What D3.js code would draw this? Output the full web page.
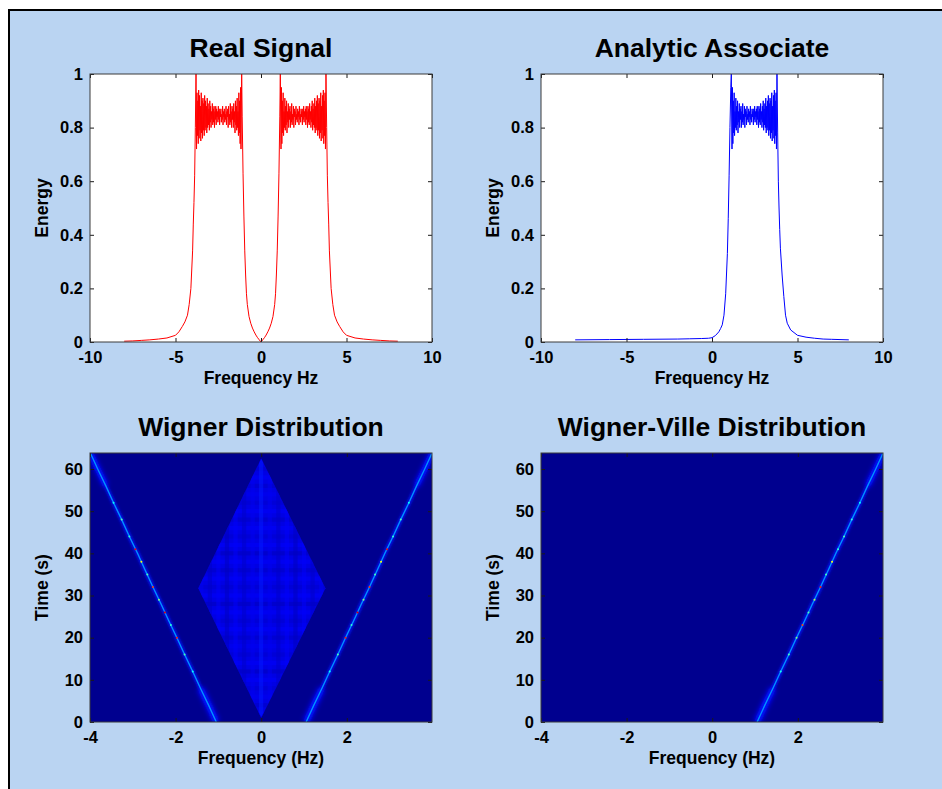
<!DOCTYPE html>
<html>
<head>
<meta charset="utf-8">
<script src="https://cdn.jsdelivr.net/npm/d3@7"></script>
<style>
  html, body { margin: 0; padding: 0; background: #ffffff; }
  svg { display: block; font-family: "Liberation Sans", Arial, Helvetica, sans-serif; }
</style>
</head>
<body>
<svg id="fig" width="942" height="789"></svg>
<script>
// ---------- tick labels ----------
const spectrumTicksX = [-10, -5, 0, 5, 10];
const spectrumTicksY = [0, 0.2, 0.4, 0.6, 0.8, 1];
const wignerTicksX = [-4, -2, 0, 2];
const wignerTicksY = [0, 10, 20, 30, 40, 50, 60];

// ---------- spectrum of the real chirp (positive half; the negative half is its mirror) ----------
const realRiseFreq   = [0, 0.1, 0.2, 0.3, 0.4, 0.5, 0.6, 0.7, 0.8, 0.85, 0.9, 0.95, 1.0, 1.05, 1.1, 1.13];
const realRiseEnergy = [0, 0.008, 0.016, 0.026, 0.038, 0.052, 0.07, 0.095, 0.14, 0.18, 0.25, 0.34, 0.47, 0.63, 0.84, 1.0];

// pass-band ripple (shared by both spectra)
const rippleFreq = [
  1.170, 1.195, 1.220, 1.245, 1.270, 1.295, 1.320, 1.345, 1.370, 1.395,
  1.420, 1.445, 1.470, 1.495, 1.520, 1.545, 1.570, 1.595, 1.620, 1.645,
  1.670, 1.695, 1.720, 1.745, 1.770, 1.795, 1.820, 1.845, 1.870, 1.895,
  1.920, 1.945, 1.970, 1.995, 2.020, 2.045, 2.070, 2.095, 2.120, 2.145,
  2.170, 2.195, 2.220, 2.245, 2.270, 2.295, 2.320, 2.345, 2.370, 2.395,
  2.420, 2.445, 2.470, 2.495, 2.520, 2.545, 2.570, 2.595, 2.620, 2.645,
  2.670, 2.695, 2.720, 2.745, 2.770, 2.795, 2.820, 2.845, 2.870, 2.895,
  2.920, 2.945, 2.970, 2.995, 3.020, 3.045, 3.070, 3.095, 3.120, 3.145,
  3.170, 3.195, 3.220, 3.245, 3.270, 3.295, 3.320, 3.345, 3.370, 3.395,
  3.420, 3.445, 3.470, 3.495, 3.520, 3.545, 3.570, 3.595, 3.620, 3.645,
  3.670, 3.695, 3.720, 3.745, 3.770];
const rippleEnergy = [
  0.72, 0.95, 0.74, 0.90, 0.78, 0.93, 0.77, 0.86, 0.80, 0.91,
  0.79, 0.88, 0.81, 0.90, 0.78, 0.86, 0.82, 0.89, 0.80, 0.87,
  0.83, 0.88, 0.80, 0.86, 0.82, 0.89, 0.81, 0.85, 0.83, 0.88,
  0.80, 0.87, 0.84, 0.86, 0.81, 0.88, 0.83, 0.85, 0.82, 0.87,
  0.84, 0.86, 0.81, 0.88, 0.83, 0.85, 0.82, 0.87, 0.84, 0.86,
  0.81, 0.87, 0.83, 0.88, 0.82, 0.86, 0.84, 0.87, 0.81, 0.88,
  0.83, 0.86, 0.80, 0.88, 0.82, 0.87, 0.81, 0.89, 0.83, 0.86,
  0.80, 0.88, 0.82, 0.90, 0.79, 0.87, 0.81, 0.89, 0.80, 0.91,
  0.78, 0.88, 0.80, 0.90, 0.79, 0.92, 0.77, 0.89, 0.79, 0.91,
  0.76, 0.90, 0.78, 0.93, 0.75, 0.88, 0.79, 0.92, 0.76, 0.94,
  0.74, 0.90, 0.77, 0.93, 0.72];

const realFallFreq   = [3.8, 3.84, 3.88, 3.92, 3.96, 4.0, 4.1, 4.2, 4.3, 4.45, 4.6, 4.8, 5.0, 5.5, 6.0, 6.5, 7.0, 7.5, 8.0];
const realFallEnergy = [1.0, 0.8, 0.62, 0.52, 0.44, 0.34, 0.2, 0.14, 0.1, 0.075, 0.058, 0.038, 0.025, 0.015, 0.011, 0.008, 0.006, 0.004, 0.003];

// ---------- spectrum of the analytic associate ----------
const analyticNegFreq   = [-8, -6, -4, -2, -1.3, -0.6, -0.2];
const analyticNegEnergy = [0.008, 0.009, 0.01, 0.011, 0.012, 0.013, 0.014];
const analyticRiseFreq   = [0, 0.2, 0.4, 0.5, 0.6, 0.7, 0.8, 0.9, 0.95, 1.0, 1.05, 1.1, 1.13];
const analyticRiseEnergy = [0.016, 0.024, 0.038, 0.05, 0.064, 0.1, 0.18, 0.33, 0.46, 0.62, 0.8, 0.95, 1.0];
const analyticFallFreq   = [3.8, 3.84, 3.88, 3.92, 3.96, 4.0, 4.1, 4.2, 4.3, 4.4, 4.6, 5.0, 5.5, 6.0, 6.5, 7.0, 8.0];
const analyticFallEnergy = [1.0, 0.78, 0.6, 0.5, 0.42, 0.35, 0.25, 0.17, 0.1, 0.07, 0.045, 0.025, 0.018, 0.014, 0.011, 0.01, 0.008];

// ---------- time-frequency distributions ----------
// jet colour map
const jetStops  = [0, 0.125, 0.375, 0.625, 0.875, 1];
const jetColors = ["#00008f", "#0000ff", "#00ffff", "#ffff00", "#ff0000", "#800000"];

// instantaneous-frequency ridge of the chirp (positive branch)
const ridgeTime = [0, 4, 8, 12, 16, 20, 24, 28, 32, 36, 40, 44, 48, 52, 56, 60, 64];
const ridgeFreq = [1.05, 1.23, 1.42, 1.60, 1.79, 1.97, 2.16, 2.34, 2.53, 2.71, 2.89, 3.08, 3.26, 3.45, 3.63, 3.82, 4.0];
const ridgeLevel = 0.27;
const ridgeGlowLevel = 0.15;

// bright samples on the ridge
const speckTime  = [12, 16, 20, 23, 26, 29, 32, 35, 38, 41, 44, 48, 52];
const speckFreq  = [1.60, 1.79, 1.97, 2.11, 2.25, 2.39, 2.53, 2.66, 2.80, 2.94, 3.08, 3.26, 3.45];
const speckLevelWD  = [0.38, 0.45, 0.85, 0.42, 0.9, 0.5, 0.82, 0.45, 0.62, 0.88, 0.42, 0.45, 0.38];
const speckLevelWVD = [0.4, 0.45, 0.5, 0.8, 0.45, 0.55, 0.85, 0.45, 0.62, 0.42, 0.45, 0.42, 0.38];

// cross-term (interference) region of the Wigner distribution
const crossFreq = [0, 1.5, 0, -1.47];
const crossTime = [1, 31.7, 62.5, 31.7];
const crossLevel = 0.095;
const fringeTime  = [2, 4, 6, 8, 10, 12, 14, 16, 18, 20, 22, 24, 26, 28, 30, 32, 34, 36, 38, 40, 42, 44, 46, 48, 50, 52, 54, 56, 58, 60, 62];
const fringeRowLevel = [0.12, 0.06, 0.11, 0.07, 0.12, 0.05, 0.12, 0.07, 0.11, 0.06, 0.12, 0.07, 0.12, 0.05, 0.12, 0.07,
  0.12, 0.06, 0.12, 0.05, 0.12, 0.07, 0.12, 0.06, 0.12, 0.07, 0.11, 0.06, 0.12, 0.07, 0.11];
const fringeFreq = [-1.4, -1.2, -1.0, -0.8, -0.6, -0.4, -0.2, 0, 0.2, 0.4, 0.6, 0.8, 1.0, 1.2, 1.4];
const fringeColLevel = [0.11, 0.06, 0.12, 0.05, 0.12, 0.06, 0.11, 0.14, 0.11, 0.06, 0.12, 0.05, 0.12, 0.06, 0.11];

// ---------- build series ----------
const pairs = (f, e) => f.map((v, i) => [v, e[i]]);
const realPos = pairs(realRiseFreq, realRiseEnergy)
  .concat(pairs(rippleFreq, rippleEnergy), pairs(realFallFreq, realFallEnergy));
const realNeg = realPos.filter(d => d[0] > 0).map(d => [-d[0], d[1]]).reverse();
const realSeries = realNeg.concat(realPos);
const analyticSeries = pairs(analyticNegFreq, analyticNegEnergy)
  .concat(pairs(analyticRiseFreq, analyticRiseEnergy), pairs(rippleFreq, rippleEnergy), pairs(analyticFallFreq, analyticFallEnergy));

const jet = d3.scaleLinear().domain(jetStops).range(jetColors).clamp(true);

// ---------- figure ----------
const svg = d3.select("#fig");
const defs = svg.append("defs");
defs.append("filter").attr("id", "glow").attr("x", "-50%").attr("y", "-50%").attr("width", "200%").attr("height", "200%")
  .append("feGaussianBlur").attr("stdDeviation", 1.5);
defs.append("filter").attr("id", "wide").attr("x", "-50%").attr("y", "-50%").attr("width", "200%").attr("height", "200%")
  .append("feGaussianBlur").attr("stdDeviation", 2.6);
defs.append("filter").attr("id", "soft").append("feGaussianBlur").attr("stdDeviation", 0.7);

svg.append("rect").attr("x", 9).attr("y", 10).attr("width", 1000).attr("height", 900)
  .attr("fill", "#bad4f2").attr("stroke", "#000").attr("stroke-width", 2);

const boxes = {
  tl: { x0: 90, x1: 432, y0: 74, y1: 342 },
  tr: { x0: 541, x1: 883, y0: 74, y1: 342 },
  bl: { x0: 90, x1: 432, y0: 453, y1: 722 },
  br: { x0: 541, x1: 883, y0: 453, y1: 722 }
};

const plain = d => String(d);

function frame(g, b, x, y, xTicks, yTicks, fmtY, title, xLabel, yLabel) {
  const tickCol = "#1a1a1a";
  g.append("g").attr("transform", `translate(0,${b.y1})`)
    .call(d3.axisBottom(x).tickValues(xTicks).tickSize(-4).tickPadding(9).tickFormat(plain))
    .call(a => a.select(".domain").remove());
  g.append("g").attr("transform", `translate(0,${b.y0})`)
    .call(d3.axisTop(x).tickValues(xTicks).tickSize(-4).tickFormat(""))
    .call(a => a.select(".domain").remove());
  g.append("g").attr("transform", `translate(${b.x0},0)`)
    .call(d3.axisLeft(y).tickValues(yTicks).tickSize(-4).tickPadding(7).tickFormat(fmtY))
    .call(a => a.select(".domain").remove());
  g.append("g").attr("transform", `translate(${b.x1},0)`)
    .call(d3.axisRight(y).tickValues(yTicks).tickSize(-4).tickFormat(""))
    .call(a => a.select(".domain").remove());
  g.selectAll(".tick line").attr("stroke", tickCol);
  g.selectAll(".tick text").attr("fill", "#000").attr("font-size", 16.5).attr("font-weight", "bold")
    .attr("font-family", "'Liberation Sans', Arial, sans-serif");
  g.append("rect").attr("x", b.x0).attr("y", b.y0).attr("width", b.x1 - b.x0).attr("height", b.y1 - b.y0)
    .attr("fill", "none").attr("stroke", "#3a3a3a").attr("stroke-width", 1);
  const cx = (b.x0 + b.x1) / 2;
  g.append("text").attr("x", cx).attr("y", b.y0 - 17).attr("text-anchor", "middle")
    .attr("font-size", 26.5).attr("font-weight", "bold").text(title);
  g.append("text").attr("x", cx).attr("y", b.y1 + 42).attr("text-anchor", "middle")
    .attr("font-size", 17.5).attr("font-weight", "bold").text(xLabel);
  g.append("text").attr("transform", `translate(${b.x0 - 42},${(b.y0 + b.y1) / 2}) rotate(-90)`)
    .attr("text-anchor", "middle").attr("font-size", 17.5).attr("font-weight", "bold").text(yLabel);
}

function clipFor(id, b) {
  defs.append("clipPath").attr("id", id).append("rect")
    .attr("x", b.x0).attr("y", b.y0).attr("width", b.x1 - b.x0).attr("height", b.y1 - b.y0);
  return `url(#${id})`;
}

function spectrumPanel(key, series, color, title) {
  const b = boxes[key];
  const g = svg.append("g");
  const x = d3.scaleLinear().domain([-10, 10]).range([b.x0, b.x1]);
  const y = d3.scaleLinear().domain([0, 1]).range([b.y1, b.y0]);
  g.append("rect").attr("x", b.x0).attr("y", b.y0).attr("width", b.x1 - b.x0).attr("height", b.y1 - b.y0).attr("fill", "#fff");
  g.append("path").datum(series).attr("clip-path", clipFor("clip-" + key, b))
    .attr("d", d3.line().x(d => x(d[0])).y(d => y(d[1])))
    .attr("fill", "none").attr("stroke", color).attr("stroke-width", 1);
  frame(g, b, x, y, spectrumTicksX, spectrumTicksY, d => (d === 0 || d === 1) ? String(d) : d.toFixed(1),
    title, "Frequency Hz", "Energy");
}

function wignerPanel(key, branches, specks, title, withCross) {
  const b = boxes[key];
  const g = svg.append("g");
  const x = d3.scaleLinear().domain([-4, 3.99]).range([b.x0, b.x1]);
  const y = d3.scaleLinear().domain([0, 63.8]).range([b.y1, b.y0]);
  const plot = g.append("g").attr("clip-path", clipFor("clip-" + key, b));
  plot.append("rect").attr("x", b.x0).attr("y", b.y0).attr("width", b.x1 - b.x0).attr("height", b.y1 - b.y0)
    .attr("fill", jet(0));

  if (withCross) {
    const poly = crossFreq.map((f, i) => [x(f), y(crossTime[i])]);
    defs.append("clipPath").attr("id", "cross-" + key).append("polygon").attr("points", poly.join(" "));
    const cross = plot.append("g").attr("filter", "url(#soft)");
    cross.append("polygon").attr("points", poly.join(" ")).attr("fill", jet(crossLevel));
    const inner = cross.append("g").attr("clip-path", `url(#cross-${key})`);
    inner.selectAll("rect.row").data(fringeTime).join("rect").attr("class", "row")
      .attr("x", x(-1.6)).attr("width", x(1.6) - x(-1.6))
      .attr("y", t => y(t + 0.5)).attr("height", t => y(t - 0.5) - y(t + 0.5))
      .attr("fill", (t, i) => jet(fringeRowLevel[i])).attr("opacity", 0.55);
    inner.selectAll("rect.col").data(fringeFreq).join("rect").attr("class", "col")
      .attr("x", f => x(f - 0.05)).attr("width", f => x(f + 0.05) - x(f - 0.05))
      .attr("y", y(64)).attr("height", y(0) - y(64))
      .attr("fill", (f, i) => jet(fringeColLevel[i])).attr("opacity", 0.5);
  }

  const line = d3.line().x(d => x(d[0])).y(d => y(d[1]));
  branches.forEach(sign => {
    const pts = ridgeFreq.map((f, i) => [sign * f, ridgeTime[i]]);
    // broad low-level halo around the ridge ends
    plot.append("path").datum(pts.slice(0, 3)).attr("d", line).attr("fill", "none")
      .attr("stroke", jet(0.14)).attr("stroke-width", 7).attr("filter", "url(#wide)");
    plot.append("path").datum(pts.slice(-3)).attr("d", line).attr("fill", "none")
      .attr("stroke", jet(0.14)).attr("stroke-width", 6).attr("filter", "url(#wide)");
    plot.append("path").datum(pts).attr("d", line).attr("fill", "none")
      .attr("stroke", jet(ridgeGlowLevel)).attr("stroke-width", 3.5).attr("filter", "url(#glow)");
    plot.append("path").datum(pts).attr("d", line).attr("fill", "none")
      .attr("stroke", jet(ridgeLevel)).attr("stroke-width", 1.3);
    plot.selectAll(null).data(speckTime).join("circle")
      .attr("cx", (t, i) => x(sign * speckFreq[i])).attr("cy", t => y(t)).attr("r", 1)
      .attr("fill", (t, i) => jet(specks[i]));
  });

  frame(g, b, x, y, wignerTicksX, wignerTicksY, plain, title, "Frequency (Hz)", "Time (s)");
}

spectrumPanel("tl", realSeries, "#ff0000", "Real Signal");
spectrumPanel("tr", analyticSeries, "#0000ff", "Analytic Associate");
wignerPanel("bl", [1, -1], speckLevelWD, "Wigner Distribution", true);
wignerPanel("br", [1], speckLevelWVD, "Wigner-Ville Distribution", false);
</script>
</body>
</html>
